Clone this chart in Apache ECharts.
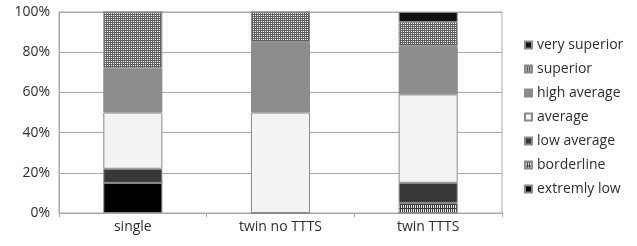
<!DOCTYPE html>
<html>
<head>
<meta charset="utf-8">
<script src="https://cdn.jsdelivr.net/npm/echarts@6/dist/echarts.min.js"></script>
<style>
  html, body { margin: 0; padding: 0; background: #fff; }
  #chart_box { width: 637px; height: 246px; }
</style>
</head>
<body>
<div id="chart_box"></div>
<script>
// categories and percentages (bottom to top)
var categories = ['single', 'twin no TTTS', 'twin TTTS'];
var extremlyLow   = [15, 0, 0];
var borderline    = [0, 0, 5];
var lowAverage    = [7, 0, 10];
var average       = [28, 50, 44];
var highAverage   = [22, 35, 24];
var superior      = [28, 15, 12];
var verySuperior  = [0, 0, 5];
var yTicks = [0, 20, 40, 60, 80, 100];

// small repeating patterns for hatched segments
function makePattern(size, bg, line, vStep, hStep) {
    var c = document.createElement('canvas');
    c.width = size; c.height = size;
    var ctx = c.getContext('2d');
    ctx.fillStyle = bg;
    ctx.fillRect(0, 0, size, size);
    ctx.fillStyle = line;
    for (var x = 0; x < size; x += vStep) ctx.fillRect(x, 0, 1, size);
    for (var y = 0; y < size; y += hStep) ctx.fillRect(0, y, size, 1);
    return { image: c, repeat: 'repeat' };
}
var superiorFill = makePattern(4, '#ffffff', '#5e5e5e', 2, 2);
var borderlineFill = makePattern(4, '#e8e8e8', '#3c3c3c', 2, 4);

var mycharts = echarts.init(document.getElementById('chart_box'));

function seg(name, data, color) {
    return {
        name: name,
        type: 'bar',
        stack: 'all',
        barWidth: '40%',
        data: data,
        itemStyle: { color: color, borderColor: '#8a8a8a', borderWidth: 1 },
        emphasis: { disabled: true }
    };
}

var optionObj = {
    animation: false,
    textStyle: { fontFamily: 'Open Sans' },
    grid: { left: 59, right: 135, top: 12, bottom: 33, show: true, borderColor: '#a8a8a8', borderWidth: 1 },
    legend: {
        orient: 'vertical',
        left: 519,
        top: 33,
        itemWidth: 7,
        itemHeight: 7,
        itemGap: 10,
        icon: 'rect',
        textStyle: { fontSize: 14, color: '#2e2e2e', fontFamily: 'Open Sans' },
        data: ['very superior', 'superior', 'high average', 'average', 'low average', 'borderline', 'extremly low']
    },
    xAxis: {
        type: 'category',
        data: categories,
        axisLine: { lineStyle: { color: '#a8a8a8' } },
        axisTick: { show: true, length: 4, lineStyle: { color: '#a8a8a8' } },
        axisLabel: { color: '#2e2e2e', fontSize: 14, margin: 7 }
    },
    yAxis: {
        type: 'value',
        min: 0,
        max: 100,
        interval: 20,
        axisLine: { show: true, lineStyle: { color: '#a8a8a8' } },
        axisTick: { show: false },
        splitLine: { lineStyle: { color: '#a8a8a8' } },
        axisLabel: {
            color: '#2e2e2e', fontSize: 14, margin: 9,
            formatter: function (v) { return yTicks.indexOf(v) >= 0 ? v + '%' : ''; }
        }
    },
    series: [
        seg('extremly low', extremlyLow, '#000000'),
        seg('borderline', borderline, borderlineFill),
        seg('low average', lowAverage, '#383838'),
        seg('average', average, '#f3f3f3'),
        seg('high average', highAverage, '#8c8c8c'),
        seg('superior', superior, superiorFill),
        seg('very superior', verySuperior, '#111111')
    ]
};

mycharts.setOption(optionObj);
</script>
</body>
</html>
